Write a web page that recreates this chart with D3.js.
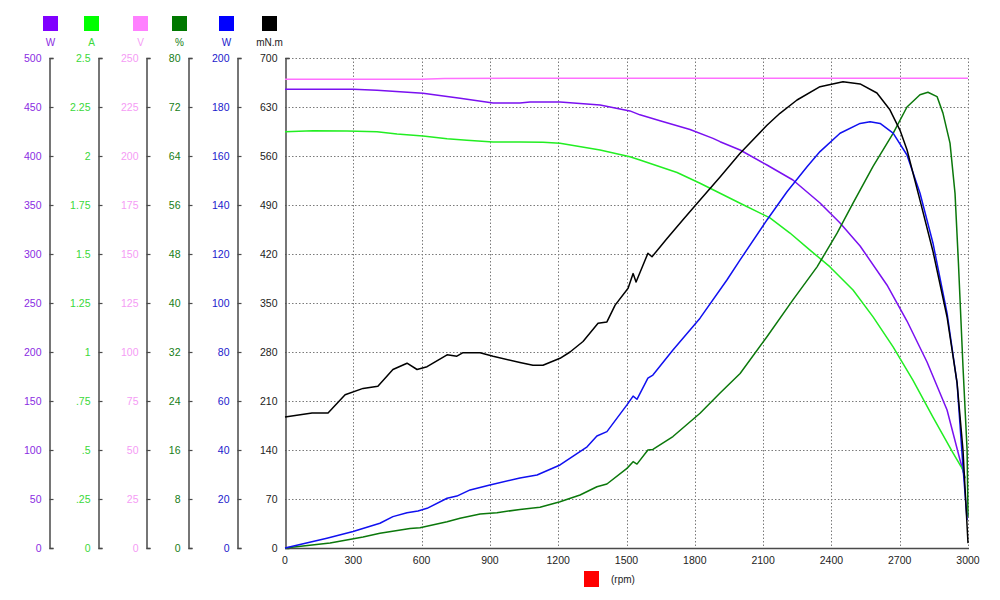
<!DOCTYPE html>
<html><head><meta charset="utf-8">
<script src="https://cdn.jsdelivr.net/npm/d3@7"></script>
<style>
html,body{margin:0;padding:0;background:#fff;}
svg{display:block;font-family:"Liberation Sans",Arial,sans-serif;}
</style></head>
<body>
<svg id="chart" width="1000" height="600"></svg>
<script>
// ---------- data (rpm, value) ----------
const rpmTicks = [0,300,600,900,1200,1500,1800,2100,2400,2700,3000];

const inputPowerW = [[0,468],[299,468],[404,467],[606,464],[769,459],[914,454],[1032,454],[1076,455],[1208,455],[1384,452],[1515,446],[1559,442],[1647,436],[1779,427],[1880,418],[1911,414.6],[1999,406.1],[2117,390.8],[2231,375.5],[2350,352.0],[2438,331.6],[2526,308.2],[2644,268.4],[2732,231.6],[2820,189.8],[2908,140.8],[2965,89.8],[2987,71]];

const currentA = [[0,2.124],[123,2.129],[272,2.128],[404,2.124],[492,2.112],[606,2.102],[712,2.088],[799,2.080],[914,2.071],[1032,2.071],[1133,2.070],[1208,2.065],[1384,2.031],[1515,1.996],[1559,1.980],[1722,1.916],[1823,1.861],[1911,1.810],[1999,1.759],[2130,1.684],[2218,1.607],[2306,1.520],[2394,1.434],[2495,1.316],[2583,1.179],[2671,1.026],[2758,0.857],[2846,0.668],[2934,0.485],[2978,0.398],[2987,0.357]];

const voltageV = [[0,239.2],[600,239.2],[700,239.6],[3000,239.7]];

const efficiencyPct = [[0,0],[198,0.8],[343,1.8],[417,2.4],[549,3.2],[593,3.3],[712,4.3],[769,4.85],[857,5.55],[931,5.76],[1032,6.3],[1120,6.65],[1208,7.56],[1296,8.65],[1370,10.0],[1414,10.45],[1502,13.0],[1529,14.1],[1546,13.7],[1594,16.0],[1616,16.1],[1704,18.2],[1823,22.0],[1911,25.3],[1999,28.5],[2117,34.5],[2231,40.5],[2337,45.9],[2425,51.4],[2495,56.3],[2583,62.3],[2671,67.7],[2732,72.0],[2789,74.0],[2824,74.4],[2864,73.7],[2890,71.0],[2921,66.1],[2943,57.9],[2958,46.5],[2978,29.6],[2996,16.0],[3000,5.1]];

const outputPowerW = [[0,0],[184,4.0],[299,6.7],[417,10.1],[474,12.8],[536,14.4],[584,15.1],[624,16.2],[712,20.3],[755,21.2],[813,23.7],[900,25.7],[1032,28.6],[1107,29.8],[1208,33.9],[1327,41.3],[1370,45.7],[1414,47.5],[1502,58.4],[1529,62.0],[1546,60.7],[1594,69.3],[1616,70.6],[1704,80.8],[1823,93.8],[1941,109.4],[1999,117.6],[2117,133.9],[2205,145.4],[2293,155.6],[2350,161.8],[2438,169.3],[2526,173.3],[2570,174.0],[2614,173.3],[2671,169.3],[2732,160.4],[2789,144.9],[2846,124.5],[2908,95.9],[2952,67.3],[2978,33.1],[2996,11.4]];

const torqueMNm = [[0,187],[119,193],[189,193],[264,219],[343,228],[408,231],[474,255],[536,264],[580,255],[624,259],[712,276],[755,274],[782,279],[857,279],[914,274],[1032,265],[1089,261],[1133,261],[1208,271],[1252,280],[1309,295],[1375,321],[1414,323],[1450,347],[1507,371],[1529,392],[1542,380],[1594,421],[1612,416],[1678,442],[1748,469],[1823,497],[1911,530],[1999,564],[2117,604],[2174,621],[2249,640],[2350,659],[2451,666],[2526,663],[2600,650],[2657,626],[2701,597],[2732,569],[2789,497],[2846,424],[2908,330],[2952,236],[2978,140],[3000,7]];

// ---------- axis definitions ----------
const axisUnits   = ["W","A","V","%","W","mN.m"];
const axisMax     = [500, 2.5, 250, 80, 200, 700];
const ticksInW    = [0,50,100,150,200,250,300,350,400,450,500];
const ticksA      = [0,0.25,0.5,0.75,1,1.25,1.5,1.75,2,2.25,2.5];
const ticksV      = [0,25,50,75,100,125,150,175,200,225,250];
const ticksPct    = [0,8,16,24,32,40,48,56,64,72,80];
const ticksOutW   = [0,20,40,60,80,100,120,140,160,180,200];
const ticksTorque = [0,70,140,210,280,350,420,490,560,630,700];

// ---------- layout ----------
const L = 285, R = 968, T = 58, B = 548;
const axisX = [49, 98, 146, 188, 237, 285];
const swatchX = [43, 84, 133, 172, 219, 262];
const colors = {
  inW:   {line:"#7a10f0", swatch:"#8000ff", text:"#8a2be2"},
  amp:   {line:"#22ee22", swatch:"#00ff00", text:"#3ad83a"},
  volt:  {line:"#ff70ff", swatch:"#ff80ff", text:"#f59cf5"},
  pct:   {line:"#0b780b", swatch:"#007800", text:"#167d16"},
  outW:  {line:"#1010f0", swatch:"#0000ff", text:"#1a1acc"},
  torq:  {line:"#000000", swatch:"#000000", text:"#222222"}
};
const colorList = [colors.inW, colors.amp, colors.volt, colors.pct, colors.outW, colors.torq];

const svg = d3.select("#chart");
const x = d3.scaleLinear().domain([0,3000]).range([L,R]);
const yScales = axisMax.map(m => d3.scaleLinear().domain([0,m]).range([B,T]));
const tickSets = [ticksInW, ticksA, ticksV, ticksPct, ticksOutW, ticksTorque];
const fmtA = d => { let s = String(+d.toFixed(2)); return s.replace(/^0\./, "."); };

// ---------- grid ----------
const grid = svg.append("g").attr("stroke","#7a7a7a").attr("stroke-width",1).attr("stroke-dasharray","1.5,2");
grid.selectAll("line.v").data(rpmTicks.slice(1)).join("line")
  .attr("x1", d => Math.round(x(d))+0.5).attr("x2", d => Math.round(x(d))+0.5)
  .attr("y1", T).attr("y2", B);
grid.selectAll("line.h").data(ticksTorque.slice(1)).join("line")
  .attr("x1", L).attr("x2", R)
  .attr("y1", d => Math.round(yScales[5](d))+0.5).attr("y2", d => Math.round(yScales[5](d))+0.5);

// ---------- y axes ----------
yScales.forEach((ys, i) => {
  const ax = d3.axisLeft(ys).tickValues(tickSets[i])
    .tickSizeInner(-4).tickSizeOuter(-4).tickPadding(8)
    .tickFormat(i === 1 ? fmtA : d3.format("d"));
  const g = svg.append("g").attr("transform", `translate(${axisX[i]+0.5},0)`).call(ax);
  g.select(".domain").attr("stroke","#4a4a4a").attr("stroke-width",1.5);
  g.selectAll(".tick line").attr("stroke","#4a4a4a").attr("stroke-width",1.2);
  g.selectAll(".tick text").attr("fill", colorList[i].text)
    .style("font-size","10.5px").style("font-family","'Liberation Sans',Arial,sans-serif");
  if (i === 5) g.selectAll(".tick line").filter(d => d !== 0 && d !== 700).attr("stroke","none");
});

// ---------- x axis ----------
svg.append("line").attr("x1",L).attr("x2",R+1).attr("y1",B+0.5).attr("y2",B+0.5)
  .attr("stroke","#4a4a4a").attr("stroke-width",1.5);
svg.append("g").selectAll("text").data(rpmTicks).join("text")
  .attr("x", d => x(d)).attr("y", B+16).attr("text-anchor","middle")
  .attr("fill","#222").style("font-size","10.5px").text(d => d);

// ---------- legend ----------
const leg = svg.append("g");
axisUnits.forEach((u, i) => {
  leg.append("rect").attr("x", swatchX[i]).attr("y", 16).attr("width",15).attr("height",15)
    .attr("fill", colorList[i].swatch);
  leg.append("text").attr("x", swatchX[i]+7.5).attr("y", 46).attr("text-anchor","middle")
    .attr("fill", colorList[i].text).style("font-size","10px").text(u);
});
svg.append("rect").attr("x",584).attr("y",571).attr("width",15).attr("height",16).attr("fill","#ff0000");
svg.append("text").attr("x",611).attr("y",583).attr("fill","#222").style("font-size","10px").text("(rpm)");

// ---------- curves ----------
const series = [
  {data: inputPowerW, ax: 0, c: colors.inW.line},
  {data: currentA, ax: 1, c: colors.amp.line},
  {data: voltageV, ax: 2, c: colors.volt.line},
  {data: efficiencyPct, ax: 3, c: colors.pct.line},
  {data: outputPowerW, ax: 4, c: colors.outW.line},
  {data: torqueMNm, ax: 5, c: colors.torq.line}
];
const curves = svg.append("g").attr("fill","none").attr("stroke-linejoin","round");
series.forEach(s => {
  const line = d3.line().x(d => x(d[0])).y(d => yScales[s.ax](d[1]));
  curves.append("path").attr("d", line(s.data)).attr("stroke", s.c).attr("stroke-width", 1.5);
});
</script>
</body></html>
